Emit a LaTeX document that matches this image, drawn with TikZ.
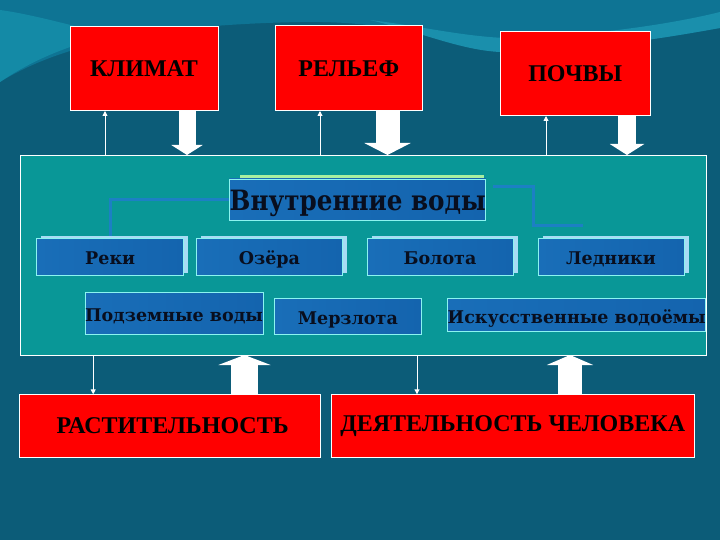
\documentclass[tikz,border=0pt]{standalone}
\usepackage{fontspec}
\setmainfont{Liberation Serif}
\newfontfamily\bluefont{DejaVu Serif}
\newfontfamily\bluecond[FakeStretch=0.88]{DejaVu Serif}
\usetikzlibrary{arrows.meta,calc}
\definecolor{bgdark}{HTML}{0C5C78}
\definecolor{bgmid}{HTML}{0E7494}
\definecolor{bandc}{HTML}{1A8FAC}
\definecolor{cyanl}{HTML}{148AA6}
\definecolor{panelc}{HTML}{099797}
\definecolor{boxblue}{HTML}{1464AE}
\definecolor{boxbluel}{HTML}{196EB8}
\definecolor{shadowb}{HTML}{A8DCF4}
\definecolor{shadowg}{HTML}{A8F0A0}
\definecolor{edgec}{HTML}{8CF4F0}
\definecolor{linkb}{HTML}{1C80C4}
\definecolor{redc}{HTML}{FF0000}
\definecolor{inkc}{HTML}{080E1E}
\begin{document}
\begin{tikzpicture}[x=1pt,y=-1pt,
  redbox/.style={draw=white, line width=1pt, fill=redc, inner sep=0pt, outer sep=0pt,
    font=\bfseries\fontsize{24}{28}\selectfont, text=black},
  bluebox/.style={draw=edgec, line width=0.8pt, inner sep=0pt, outer sep=0pt,
    left color=boxbluel, right color=boxblue,
    font=\bluefont\bfseries\fontsize{17.5}{20}\selectfont, text=inkc,
    text height=15pt, text depth=0pt},
  panelbox/.style={draw=white, line width=0.9pt, fill=panelc, inner sep=0pt, outer sep=0pt},
  thinarrow/.style={draw=white, line width=0.9pt, -{Triangle[length=5pt,width=5pt]}},
  bigarrow/.style={draw=white, line cap=butt},
  link/.style={draw=linkb, line width=3pt}
]
\useasboundingbox (0,0) rectangle (720,540);
% background
\fill[bgdark] (0,0) rectangle (720,540);
\fill[bgmid] (0,0) -- (0,82) .. controls (60,45) and (150,25) .. (300,22)
  .. controls (400,20) and (450,45) .. (500,52)
  .. controls (600,50) and (680,35) .. (720,28) -- (720,0) -- cycle;
\fill[bandc] (370,20) .. controls (420,32) and (460,50) .. (500,52)
  .. controls (600,50) and (680,35) .. (720,28) -- (720,12)
  .. controls (680,22) and (600,36) .. (505,38)
  .. controls (460,36) and (420,26) .. (370,20) -- cycle;
\fill[cyanl] (0,10) -- (0,82) .. controls (30,62) and (60,48) .. (110,35)
  .. controls (70,25) and (30,14) .. (0,10) -- cycle;

% top boxes
\node[redbox, minimum width=148pt, minimum height=84pt] (klimat) at (144,69) {КЛИМАТ};
\node[redbox, minimum width=146.5pt, minimum height=85pt] (relief) at (348.75,68.5) {РЕЛЬЕФ};
\node[redbox, minimum width=149.5pt, minimum height=84pt] (pochvy) at (575.25,74) {ПОЧВЫ};

% panel
\node[panelbox, minimum width=686pt, minimum height=200pt] (panel) at (363,255) {};

% bottom boxes
\node[redbox, minimum width=300.7pt, minimum height=63pt] (rast) at (169.65,425.8) {\hspace*{6pt}РАСТИТЕЛЬНОСТЬ};
\node[redbox, minimum width=362.5pt, minimum height=63pt] (deyat) at (512.75,425.8) {ДЕЯТЕЛЬНОСТЬ ЧЕЛОВЕКА};

% arrow x positions
\coordinate (ua) at (105,0);
\coordinate (ub) at (320,0);
\coordinate (uc) at (546,0);
\coordinate (da) at (187,0);
\coordinate (db) at (387.5,0);
\coordinate (dc) at (627,0);
\coordinate (ea) at (93.2,0);
\coordinate (eb) at (417,0);
\coordinate (fa) at (244.5,0);
\coordinate (fb) at (570,0);

% thin arrows up from panel to top boxes
\draw[thinarrow] (ua |- panel.north) -- (ua |- klimat.south);
\draw[thinarrow] (ub |- panel.north) -- (ub |- relief.south);
\draw[thinarrow] (uc |- panel.north) -- (uc |- pochvy.south);
% big arrows down to panel
\draw[bigarrow, line width=17pt, -{Triangle[length=10pt,width=31pt]}] (da |- klimat.south) -- (da |- panel.north);
\draw[bigarrow, line width=24pt, -{Triangle[length=12pt,width=46pt]}] (db |- relief.south) -- (db |- panel.north);
\draw[bigarrow, line width=18pt, -{Triangle[length=11pt,width=34pt]}] (dc |- pochvy.south) -- (dc |- panel.north);
% thin arrows down from panel to bottom boxes
\draw[thinarrow] (ea |- panel.south) -- (ea |- rast.north);
\draw[thinarrow] (eb |- panel.south) -- (eb |- deyat.north);
% big arrows up from bottom boxes
\draw[bigarrow, line width=27pt, -{Triangle[length=10pt,width=52pt]}] (fa |- rast.north) -- (fa |- panel.south);
\draw[bigarrow, line width=24pt, -{Triangle[length=10pt,width=46pt]}] (fb |- deyat.north) -- (fb |- panel.south);

% connectors inside the panel
\node[minimum width=244.5pt, minimum height=41.7pt, inner sep=0pt] (vvpos) at (357.75,199.85) {};
\coordinate (r1) at (493,187);
\coordinate (r2) at (533,187);
\coordinate (r3) at (533,226);
\coordinate (r4) at (583,226);
\coordinate (rk) at (110.2,238);
\draw[link] (vvpos.west) -| (rk);
\draw[link] (r1) -- (r2) -- (r3) -- (r4);

% shadows
\fill[shadowb] (41.2,235.7) rectangle (188.2,273);
\fill[shadowb] (201,235.7) rectangle (347,273);
\fill[shadowb] (371.5,235.7) rectangle (517.5,273);
\fill[shadowb] (542.5,235.7) rectangle (688.5,273);
\fill[shadowg] (239.5,175.5) rectangle (484,217.7);

% blue boxes
\node[bluebox, minimum width=244.5pt, minimum height=41.7pt,
  font=\bluecond\bfseries\fontsize{28}{32}\selectfont, text height=22pt, text depth=0pt] (vv) at (357.75,199.85) {Внутренние воды};
\node[bluebox, minimum width=147pt, minimum height=36.3pt] (rivers) at (110.2,256.85) {Реки};
\node[bluebox, minimum width=146pt, minimum height=36.3pt] (lakes) at (269.5,256.85) {Озёра};
\node[bluebox, minimum width=146pt, minimum height=36.3pt] (swamps) at (440,256.85) {Болота};
\node[bluebox, minimum width=146pt, minimum height=36.3pt] (glaciers) at (611,256.85) {Ледники};
\node[bluebox, minimum width=167pt, minimum height=41.7pt, text height=16pt] (under) at (174,313.15) {Подземные воды};
\node[bluebox, minimum width=146.4pt, minimum height=36pt, text height=16pt] (perma) at (347.8,316) {Мерзлота};
\node[bluebox, minimum width=240.6pt, minimum height=33.4pt, text height=16pt] (artif) at (576.7,315) {Искусственные водоёмы};
\end{tikzpicture}
\end{document}
